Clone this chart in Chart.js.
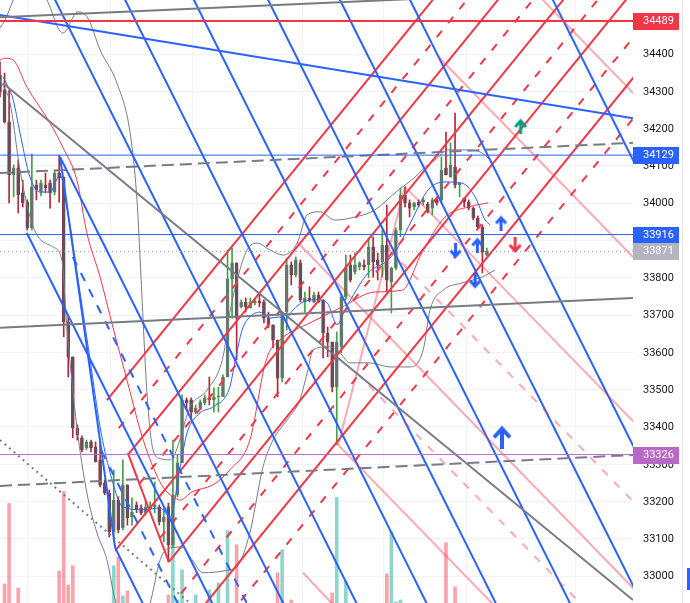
<!DOCTYPE html>
<html>
<head>
<meta charset="utf-8">
<script src="https://cdn.jsdelivr.net/npm/chart.js@4.4.1/dist/chart.umd.min.js"></script>
<style>
  html, body { margin: 0; padding: 0; background: #fff; overflow: hidden; }
  canvas { display: block; }
</style>
</head>
<body>
<canvas id="chart" width="690" height="603" style="width:690px;height:603px"></canvas>
<script>
// ---- price data (one candle per bar index) ----
const opens = [34344,34304,34218,34076,34095,34028,34003,33934,34049,34030, 34049,34054,34030,34081,34070,33682,33588,33397,33371,33344,
  33360,33347,33312,33250,33223,33119,33204,33129,33245,33159, 33191,33183,33170,33180,33186,33186,33146,33186,33084,33218,
  33304,33473,33473,33440,33451,33465,33478,33473,33481,33481, 33534,33797,33840,33722,33735,33719,33733,33738,33735,33692,
  33674,33633,33531,33708,33835,33808,33840,33735,33746,33735, 33754,33741,33652,33628,33507,33615,33749,33835,33816,33829,
  33835,33835,33883,33848,33843,33888,33789,33826,33928,34022, 34001,33990,34003,34003,33998,33987,34009,34009,34095,34070,
  34097,34049,34014,34003,33987,33960,33936,33861];
const highs = [34379,34349,34304,34103,34116,34062,34009,34132,34062,34062, 34081,34062,34089,34129,34070,33695,33588,33406,33376,33365,
  33365,33360,33360,33258,33231,33285,33213,33312,33245,33210, 33199,33191,33204,33199,33253,33191,33186,33196,33365,33325,
  33486,33478,33478,33459,33473,33486,33534,33505,33507,33540, 33875,33880,33840,33741,33746,33746,33746,33759,33741,33708,
  33674,33633,33708,33853,33843,33856,33848,33762,33776,33762, 33762,33741,33668,33628,33655,33754,33861,33861,33867,33843,
  33848,33907,33910,33867,33928,33995,33829,33934,34041,34044, 34009,34003,34009,34014,34003,34014,34014,34124,34191,34162,
  34242,34054,34014,34009,33990,33966,33942,33880];
const lows = [34285,34215,34001,34017,33974,33990,33928,33928,34009,34020, 34028,33987,34022,34003,33642,33534,33371,33365,33333,33339,
  33333,33306,33239,33218,33105,33097,33116,33124,33137,33137, 33170,33164,33164,33178,33170,33137,33092,33038,33078,33213,
  33304,33446,33419,33435,33446,33459,33459,33440,33440,33481, 33534,33692,33580,33719,33708,33719,33727,33722,33679,33666,
  33612,33481,33521,33660,33781,33802,33735,33708,33735,33733, 33733,33585,33588,33494,33352,33599,33741,33789,33810,33821,
  33821,33800,33802,33794,33802,33762,33706,33821,33910,33990, 33963,33982,33990,33995,33974,33969,33995,34001,34076,34070,
  34041,34017,33990,33982,33955,33931,33813,33859];
const closes = [34298,34218,34076,34095,34022,34001,33934,34044,34036,34054, 34041,34028,34081,34068,33682,33588,33397,33379,33339,33360,
  33344,33306,33245,33223,33119,33204,33124,33245,33156,33172, 33178,33170,33186,33186,33191,33146,33159,33084,33218,33304,
  33473,33465,33440,33451,33467,33478,33473,33481,33483,33534, 33797,33840,33692,33735,33722,33735,33738,33733,33692,33674,
  33633,33531,33708,33835,33808,33848,33741,33746,33741,33754, 33735,33652,33628,33507,33628,33749,33829,33794,33835,33840,
  33829,33883,33843,33835,33888,33794,33826,33928,34022,34001, 33987,34001,33995,34009,33977,34009,34001,34089,34076,34103,
  34049,34054,34003,33987,33960,33936,33869,33871];

// volume (arbitrary units), split by candle colour
const volDownIdx = [1,2,4,13,14,15,16,26,28,37,52,61,64,73,85,98,100];
const volDownVal = [19,99,15,32,111,18,37,46,12,8,58,30,3,10,29,60,16];
const volUpIdx = [25,27,38,39,40,43,46,48,50,62,74,76,86,87,88];
const volUpVal = [37,7,66,3,33,8,13,20,72,53,105,22,71,1,3];

// indicator curves [bar, price]
const upperBand = [[0,34470],[1.1,34491],[2.9,34545],[6,34620],[10.3,34545],[13.8,34456],[17.1,34513],[19.3,34497],[22,34411],
  [25.7,34322],[28.6,34188],[30.1,34009],[30.8,33848],[32.3,33491],[33.6,33340],[35.2,33315],[37.4,33312],[38.5,33330],
  [41.8,33454],[45.5,33499],[49,33588],[50.5,33706],[52.1,33794],[54.3,33875],[56.5,33893],[59.3,33875],[62.2,33861],
  [65.3,33893],[67.5,33969],[70.3,33977],[73.6,33955],[78,33963],[82.4,33982],[86.8,34028],[91.2,34070],[93.4,34097],
  [95.6,34116],[98.5,34143],[102.9,34143],[105.9,34135],[108.1,34111]];
const lowerBand = [[0,34330],[2.2,34269],[4.4,34089],[7.3,33936],[11.6,33883],[13.6,33848],[14.7,33668],[16.9,33400],
  [19.1,33223],[21.3,33116],[23.5,33044],[25.3,32936],[28.6,32860],[31.5,32880],[33,32928],[35.2,33044],[37.4,33076],
  [40,33078],[42.2,33044],[44.6,33009],[50.5,33017],[52.1,33025],[54.9,33116],[57.8,33293],[60,33365],[63.1,33419],
  [65.9,33473],[67.5,33545],[68.8,33607],[71.9,33615],[74.1,33607],[76.9,33572],[81.3,33572],[85.7,33561],[90.1,33561],
  [93,33607],[94.5,33714],[97.4,33767],[101.5,33786],[105.9,33802],[108.8,33821]];
const redMA = [[0,34384],[1.1,34389],[2.9,34384],[5.9,34312],[11,34215],[13.8,34150],[16.9,34062],[19.1,33920],[22,33802],
  [24.8,33668],[27.9,33526],[30.8,33392],[33,33312],[35.8,33239],[38,33213],[39.6,33204],[42.2,33226],[46.8,33245],
  [50.5,33285],[54.9,33365],[58.5,33580],[61.5,33633],[68.1,33679],[74.7,33719],[82.4,33762],[88.4,33767],[92.7,33867],
  [97.8,33963],[102.9,33990],[107.3,34001]];
const blueMA = [[0.7,34339],[2.9,34277],[4.4,34188],[6.6,34070],[8.8,34030],[11,34030],[13.2,34076],[14.7,33990],[17.6,33760],
  [19.8,33580],[22,33400],[24.2,33277],[27,33186],[31.4,33178],[35.2,33183],[37.4,33159],[39.6,33293],[41.1,33384],[44,33438],
  [46.8,33454],[50.5,33507],[51.6,33572],[53.2,33660],[54.9,33695],[57.1,33708],[59.3,33692],[61.5,33695],[62.6,33687],
  [64.4,33714],[66.6,33735],[69.7,33741],[71.9,33733],[74.1,33674],[75.8,33714],[80.9,33813],[85.3,33848],[87.5,33883],
  [90.5,33955],[94.1,34036],[97.8,34057],[101.5,34054],[104.4,34017],[106.6,33955],[107.7,33942]];

// drawings: [[bar, price], [bar, price]]
const redForkSolid = [
  [[23.5,33472],[105,34694]], [[28.1,33325],[120,34704]], [[25.3,33068],[130,34639]],
  [[37.1,33038],[140,34582]], [[40,32849],[140,34349]]];
const redForkMid = [
  [[26.1,33397],[110,34656]], [[30.7,33249],[125,34664]], [[35.2,33103],[135,34600]],
  [[39.8,32954],[140,34457]], [[48,32860],[140,34240]]];
const redForkHandle = [[28.1,33330],[37.1,33038]];

const blueForkSolid = [
  [[9.9,34599],[80.5,32875]], [[25.3,34599],[95.9,32875]], [[40.4,34599],[111.1,32875]],
  [[56.7,34599],[127.4,32875]], [[72.5,34599],[143.2,32875]], [[87.9,34599],[158.6,32875]],
  [[119.3,34599],[190,32875]], [[13.2,34124],[64.4,32875]], [[5.9,33920],[48.8,32875]],
  [[25.3,33076],[33.5,32875]]];
const blueForkMid = [[[16,33856],[56.4,32875]], [[22.3,33336],[41.2,32875]]];
const blueForkHandle = [[13.2,34124],[25.3,33076]];

const pinkForkSolid = [
  [[96.4,34392],[142.9,33808]], [[103.7,34741],[142.9,34248]], [[89,34044],[142.9,33368]],
  [[65.3,33896],[145,32894]], [[74.3,33352],[114.3,32850]], [[66.6,33009],[75,32900]]];
const pinkForkMid = [[[85.5,33875],[142.9,33153]], [[78.4,33545],[130,32896]]];
const pinkForkHandle = [[74.3,33352],[89,34044]];

const greySolid = [[[0,34499],[110,34558]], [[0,33666],[139.1,33746]], [[0.66,34322],[139.1,32936]]];
const greyDashed = [[[0,34081],[139.1,34162]], [[0,33242],[139.1,33325]]];
const greyDotted = [[0,33365],[44,32904]];
const blueTrend = [[0,34505],[139.1,34228]];

// horizontal levels and their price tags
const levelValues = [34489, 34129, 33916, 33871, 33326];
const levelColors = ['#f23645', '#2962ff', '#2962ff', '#b2b5be', '#ba68c8'];

// signal arrows [bar, price]
const arrowsBlueUp = [[110.1,33946],[104.9,33887]];
const arrowBigBlueUp = [[110.3,33372]];
const arrowsBlueDown = [[100.1,33873],[104.4,33792]];
const arrowsRedDown = [[113.2,33887]];
const arrowsTealUp = [[114.4,34206]];

// axes
const xMin = 0, xMax = 139.1;
const yMin = 32928, yMax = 34545;
const yTicks = [33000,33100,33200,33300,33400,33500,33600,33700,33800,33900,34000,34100,34200,34300,34400];
const gridBars = [6, 24.2, 42.4, 66.4, 84.2, 102.6, 126.4];

// ---- build datasets ----
const RED = '#f23645', BLUE = '#2962ff', GREY = '#787b86', PINK = 'rgba(242,54,69,0.42)';

function seg(points, color, width, dash, order) {
  return {
    type: 'line', data: points.map(p => ({ x: p[0], y: p[1] })),
    borderColor: color, borderWidth: width, borderDash: dash || [],
    pointRadius: 0, fill: false, tension: 0, order: order || 1
  };
}
function curve(points, color) {
  return {
    type: 'line', data: points.map(p => ({ x: p[0], y: p[1] })),
    borderColor: color, borderWidth: 1, pointRadius: 0, fill: false,
    cubicInterpolationMode: 'monotone', order: 4
  };
}
function arrowImg(color, up, w, h, lw) {
  const c = document.createElement('canvas');
  c.width = w; c.height = h;
  const g = c.getContext('2d');
  g.strokeStyle = color; g.lineWidth = lw; g.lineJoin = 'miter';
  if (!up) { g.translate(0, h); g.scale(1, -1); }
  const cx = w / 2;
  g.beginPath(); g.moveTo(cx, lw); g.lineTo(cx, h); g.stroke();
  g.beginPath(); g.moveTo(lw / 2, cx + lw / 2); g.lineTo(cx, lw * 0.8); g.lineTo(w - lw / 2, cx + lw / 2); g.stroke();
  return c;
}
function arrows(points, img) {
  return {
    type: 'line', showLine: false, data: points.map(p => ({ x: p[0], y: p[1] })),
    pointStyle: img, pointRadius: 5, order: 0
  };
}

const idx = opens.map((_, i) => i);
const up = i => closes[i] >= opens[i];

const datasets = [];

// volume
datasets.push({
  type: 'bar', yAxisID: 'v', grouped: false, barThickness: 3, order: 20,
  data: volDownIdx.map((b, k) => ({ x: b, y: volDownVal[k] })), backgroundColor: 'rgba(242,54,69,0.45)'
});
datasets.push({
  type: 'bar', yAxisID: 'v', grouped: false, barThickness: 3, order: 20,
  data: volUpIdx.map((b, k) => ({ x: b, y: volUpVal[k] })), backgroundColor: 'rgba(34,171,148,0.5)'
});

// candles: wicks then bodies
datasets.push({
  type: 'bar', grouped: false, barThickness: 1, order: 9,
  data: idx.map(i => ({ x: i, y: [lows[i], highs[i]] })),
  backgroundColor: idx.map(i => up(i) ? '#43a047' : '#b2283a')
});
datasets.push({
  type: 'bar', grouped: false, barThickness: 3, minBarLength: 1, order: 8,
  data: idx.map(i => ({ x: i, y: [opens[i], closes[i]] })),
  backgroundColor: idx.map(i => up(i) ? '#6b6f78' : '#53565f'),
  borderColor: idx.map(i => up(i) ? '#43a047' : '#b2283a'),
  borderWidth: 0.6, borderSkipped: false
});

// indicators
datasets.push(curve(upperBand, GREY));
datasets.push(curve(lowerBand, GREY));
datasets.push(curve(redMA, RED));
datasets.push(curve(blueMA, BLUE));

// horizontal levels
datasets.push(seg([[xMin, levelValues[0]], [xMax, levelValues[0]]], RED, 2));
datasets.push(seg([[xMin, levelValues[1]], [xMax, levelValues[1]]], BLUE, 1));
datasets.push(seg([[xMin, levelValues[2]], [xMax, levelValues[2]]], BLUE, 1));
datasets.push(seg([[xMin, levelValues[3]], [xMax, levelValues[3]]], '#9598a1', 1, [1, 3]));
datasets.push(seg([[xMin, levelValues[4]], [xMax, levelValues[4]]], '#ba68c8', 1));

// grey trend lines
greySolid.forEach(l => datasets.push(seg(l, GREY, 2)));
greyDashed.forEach(l => datasets.push(seg(l, GREY, 2, [12, 6])));
datasets.push(seg(greyDotted, GREY, 2, [2, 4]));
datasets.push(seg(blueTrend, BLUE, 2));

// pitchforks
pinkForkSolid.forEach(l => datasets.push(seg(l, PINK, 2)));
pinkForkMid.forEach(l => datasets.push(seg(l, PINK, 2, [8, 9])));
datasets.push(seg(pinkForkHandle, PINK, 2));
blueForkSolid.forEach(l => datasets.push(seg(l, BLUE, 2)));
blueForkMid.forEach(l => datasets.push(seg(l, BLUE, 2, [9, 9])));
datasets.push(seg(blueForkHandle, BLUE, 2));
redForkSolid.forEach(l => datasets.push(seg(l, RED, 2)));
redForkMid.forEach(l => datasets.push(seg(l, RED, 2, [8, 10])));
datasets.push(seg(redForkHandle, RED, 2));

// arrows
datasets.push(arrows(arrowsBlueUp, arrowImg(BLUE, true, 13, 16, 3)));
datasets.push(arrows(arrowBigBlueUp, arrowImg(BLUE, true, 20, 24, 4)));
datasets.push(arrows(arrowsBlueDown, arrowImg(BLUE, false, 13, 16, 3)));
datasets.push(arrows(arrowsRedDown, arrowImg(RED, false, 14, 16, 3)));
datasets.push(arrows(arrowsTealUp, arrowImg('#089981', true, 14, 16, 3)));

// right price axis: tick labels, then the coloured price tags over them
const priceAxis = {
  id: 'priceAxis',
  afterDraw(chart) {
    const { ctx, chartArea, scales } = chart;
    ctx.save();
    ctx.font = '11px Roboto';
    ctx.textBaseline = 'middle';
    ctx.fillStyle = '#131722';
    yTicks.forEach(v => {
      ctx.fillText(String(v), chartArea.right + 10, scales.y.getPixelForValue(v) + 0.5);
    });
    levelValues.forEach((v, k) => {
      const y = Math.round(scales.y.getPixelForValue(v));
      ctx.fillStyle = levelColors[k];
      ctx.fillRect(chartArea.right, y - 8, 46, 17);
      ctx.fillStyle = '#ffffff';
      ctx.fillText(String(v), chartArea.right + 10, y + 0.5);
    });
    // panel edge and scroll marker at the far right
    ctx.fillStyle = '#e0e3eb';
    ctx.fillRect(chart.width - 8, 0, 1, chart.height);
    ctx.fillStyle = BLUE;
    ctx.fillRect(chart.width - 3, chart.height - 35, 3, 22);
    ctx.restore();
  }
};

new Chart(document.getElementById('chart'), {
  type: 'line',
  data: { datasets },
  options: {
    responsive: false,
    animation: false,
    devicePixelRatio: 1,
    events: [],
    layout: { padding: 0, autoPadding: false },
    plugins: { legend: { display: false }, tooltip: { enabled: false } },
    scales: {
      x: {
        type: 'linear', min: xMin, max: xMax, offset: false,
        border: { display: false },
        grid: { color: '#f0f3fa', drawTicks: false, offset: false },
        ticks: { display: false },
        afterBuildTicks: s => { s.ticks = gridBars.map(v => ({ value: v })); },
        afterFit: s => { s.height = 0; }
      },
      y: {
        position: 'right', min: yMin, max: yMax,
        border: { display: false },
        grid: { color: '#f0f3fa', drawTicks: false },
        ticks: { display: false },
        afterBuildTicks: s => { s.ticks = yTicks.map(v => ({ value: v })); },
        afterFit: s => { s.width = 57; }
      },
      v: { display: false, min: 0, max: 600 }
    }
  },
  plugins: [priceAxis]
});
</script>
</body>
</html>
